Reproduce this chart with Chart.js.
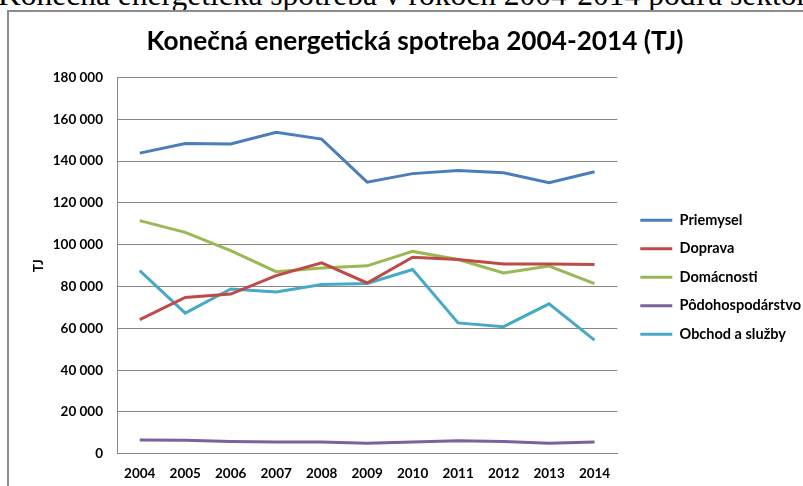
<!DOCTYPE html>
<html>
<head>
<meta charset="utf-8">
<script src="https://cdn.jsdelivr.net/npm/chart.js@4.4.1/dist/chart.umd.min.js"></script>
<style>
	html, body { margin: 0; padding: 0; background: #fff; overflow: hidden; width: 803px; height: 486px; }
	#caption {
		position: absolute; left: -2px; top: -20px; white-space: nowrap;
		font-family: "Liberation Serif", serif; font-size: 31.5px; line-height: 30px; color: #000;
	}
	#frame {
		position: absolute; left: 7px; top: 10px; width: 820px; height: 490px;
		border-left: 2px solid #8c8c8c; border-top: 2px solid #8c8c8c;
	}
	#wrap { position: absolute; left: 0; top: 0; width: 812px; height: 486px; }
</style>
</head>
<body>
<div id="caption">Konečná energetická spotreba v rokoch 2004-2014 podľa sektorov</div>
<div id="frame"><div id="wrap"><canvas id="chart"></canvas></div></div>
<script>
const years = ['2004', '2005', '2006', '2007', '2008', '2009', '2010', '2011', '2012', '2013', '2014'];
const yTicks = [0, 20000, 40000, 60000, 80000, 100000, 120000, 140000, 160000, 180000];

const priemysel = [143800, 148400, 148200, 153800, 150500, 129900, 134000, 135500, 134400, 129700, 134900];
const doprava = [64200, 74800, 76400, 85200, 91300, 81700, 94000, 92900, 90800, 90800, 90500];
const domacnosti = [111500, 105900, 97200, 87100, 88900, 89900, 96800, 92900, 86500, 89800, 81400];
const podohospodarstvo = [6550, 6500, 5900, 5600, 5600, 5100, 5700, 6200, 5900, 5100, 5600];
const obchod = [87600, 67300, 78800, 77400, 81000, 81500, 88100, 62600, 60800, 71700, 54400];

const names = ['Priemysel', 'Doprava', 'Domácnosti', 'Pôdohospodárstvo', 'Obchod a služby'];
const colors = ['#4a7ebb', '#be4b48', '#98b954', '#7d60a0', '#46aac5'];
const series = [priemysel, doprava, domacnosti, podohospodarstvo, obchod];

const font = '"Lato", "Liberation Sans", sans-serif';

new Chart(document.getElementById('chart'), {
	type: 'line',
	data: {
		labels: years,
		datasets: series.map((d, i) => ({
			label: names[i],
			data: d,
			borderColor: colors[i],
			backgroundColor: colors[i],
			borderWidth: 3,
			pointRadius: 0,
			tension: 0,
			fill: false
		}))
	},
	options: {
		responsive: true,
		maintainAspectRatio: false,
		animation: false,
		layout: { padding: { left: 10, right: 10, top: 0, bottom: 4 } },
		plugins: {
			title: {
				display: true,
				text: 'Konečná energetická spotreba 2004-2014 (TJ)',
				color: '#000',
				font: { family: font, size: 26.2, weight: 'bold' },
				padding: { top: 14, bottom: 20 }
			},
			legend: {
				position: 'right',
				maxWidth: 220,
				title: { display: true, text: ' ', font: { size: 12 }, padding: { top: 0, bottom: 34 } },
				labels: {
					color: '#000',
					font: { family: font, size: 14.5, weight: 'bold' },
					boxWidth: 32,
					boxHeight: 3,
					padding: 14,
					generateLabels: chart => Chart.defaults.plugins.legend.labels.generateLabels(chart).map(l => ({ ...l, lineWidth: 0 }))
				}
			},
			tooltip: { enabled: false }
		},
		scales: {
			x: {
				offset: true,
				grid: { display: false, drawTicks: false },
				border: { display: true, color: '#868686', width: 1 },
				ticks: { color: '#000', font: { family: font, size: 13.5, weight: 'bold' }, padding: 12, maxRotation: 0 }
			},
			y: {
				min: 0,
				max: 180000,
				afterBuildTicks: axis => { axis.ticks = yTicks.map(v => ({ value: v })); },
				afterFit: axis => { axis.width = 98; },
				grid: { color: '#868686', lineWidth: 1, drawTicks: false },
				border: { display: true, color: '#868686', width: 1 },
				ticks: {
					color: '#000',
					font: { family: font, size: 13.5, weight: 'bold' },
					padding: 14,
					callback: v => String(v).replace(/\B(?=(\d{3})+(?!\d))/g, ' ')
				},
				title: {
					display: true,
					text: 'TJ',
					color: '#000',
					font: { family: font, size: 13.5, weight: 'bold' },
					padding: { top: 12, bottom: 4 }
				}
			},
			// empty strip between plot and legend
			gap: {
				position: 'right',
				min: 0,
				max: 1,
				afterFit: axis => { axis.width = 9; },
				grid: { display: false, drawTicks: false },
				border: { display: false },
				ticks: { display: false }
			}
		}
	}
});
</script>
</body>
</html>
